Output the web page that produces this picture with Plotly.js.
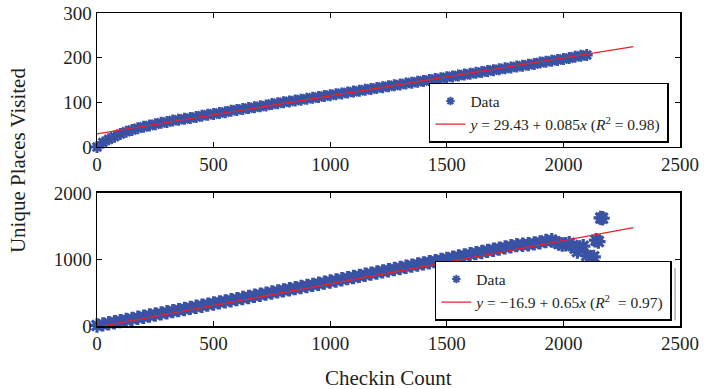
<!DOCTYPE html>
<html>
<head>
<meta charset="utf-8">
<script src="https://cdn.plot.ly/plotly-3.0.1.min.js"></script>
<style>html,body{margin:0;padding:0;background:#fff;}#chart{width:705px;height:389px;}</style>
</head>
<body>
<div id="chart"></div>
<script>
// ---- Data ----
const xTicks = [0, 500, 1000, 1500, 2000, 2500];
const yTicksTop = [0, 100, 200, 300];
const yTicksBottom = [0, 1000, 2000];

const topX = [0,25,50,75,100,125,150,175,200,225,250,275,300,325,350,375,400,425,450,475,500,525,550,575,600,625,650,675,700,725,750,775,800,825,850,875,900,925,950,975,1000,1025,1050,1075,1100,1125,1150,1175,1200,1225,1250,1275,1300,1325,1350,1375,1400,1425,1450,1475,1500,1525,1550,1575,1600,1625,1650,1675,1700,1725,1750,1775,1800,1825,1850,1875,1900,1925,1950,1975,2000,2025,2050,2075,2100];
const topY = [0,10,17,23,29,34,38,42,45,48,51,54,56,59,61,63,65,67,70,72,74,76,78,81,83,85,87,89,91,93,96,98,100,102,104,106,108,110,112,114,116,118,120,122,124,126,128,130,132,134,136,138,140,142,144,146,148,150,152,154,156,158,160,162,164,166,168,170,172,174,176,178,180,182,184,186,189,191,193,195,197,199,202,204,206];

const bottomX = [0,25,50,75,100,125,150,175,200,225,250,275,300,325,350,375,400,425,450,475,500,525,550,575,600,625,650,675,700,725,750,775,800,825,850,875,900,925,950,975,1000,1025,1050,1075,1100,1125,1150,1175,1200,1225,1250,1275,1300,1325,1350,1375,1400,1425,1450,1475,1500,1525,1550,1575,1600,1625,1650,1675,1700,1725,1750,1775,1800,1825,1850,1875,1900,1925,1950,
  1965,1980,1995,2010,2025,2040,2050,2060,2070,2085,2100,2115,2130,2140,2150,2160,2168];
const bottomY = [8,24,41,57,74,90,107,123,140,157,173,190,206,223,239,256,272,289,305,322,338,355,371,388,404,421,437,454,470,487,503,520,536,553,569,586,602,619,635,652,668,685,702,719,736,753,771,788,805,822,839,856,873,890,908,925,942,959,976,993,1010,1027,1045,1062,1079,1096,1113,1130,1147,1164,1182,1199,1216,1222,1230,1242,1258,1278,1290,
  1265,1240,1225,1230,1245,1210,1170,1120,1180,1200,1060,1030,1040,1290,1270,1625,1620];

const fitTopX = [0, 2300];
const fitTopY = [29.43, 224.93];
const fitBottomX = [0, 2300];
const fitBottomY = [-16.9, 1478.1];

const labelData = "Data";
const labelTop = "<i>y</i> = 29.43 + 0.085<i>x</i> (<i>R</i><sup>2</sup> = 0.98)";
const labelBottom = "<i>y</i> = \u221216.9 + 0.65<i>x</i> (<i>R</i><sup>2</sup>  = 0.97)";

// ---- Styling ----
const BLUE = '#3a52a4';
const RED = '#e8222a';
const FONT = 'Liberation Serif, Times New Roman, serif';
const TXT = '#231f20';

const legendMarker = {symbol: 'asterisk-open', size: 7, color: BLUE, line: {color: BLUE, width: 2}};

const traces = [
  {x: topX, y: topY, xaxis: 'x', yaxis: 'y', mode: 'markers', name: labelData, showlegend: false,
   cliponaxis: false,
   marker: {symbol: 'asterisk-open', size: 10, color: BLUE, line: {color: BLUE, width: 3}}},
  {x: [null], y: [null], xaxis: 'x', yaxis: 'y', mode: 'markers', name: labelData, legend: 'legend',
   marker: legendMarker},
  {x: fitTopX, y: fitTopY, xaxis: 'x', yaxis: 'y', mode: 'lines', name: labelTop, legend: 'legend',
   line: {color: RED, width: 1.3}},
  {x: bottomX, y: bottomY, xaxis: 'x2', yaxis: 'y2', mode: 'markers', name: labelData, showlegend: false,
   cliponaxis: false,
   marker: {symbol: 'asterisk-open', size: 12, color: BLUE, line: {color: BLUE, width: 3.2}}},
  {x: [null], y: [null], xaxis: 'x2', yaxis: 'y2', mode: 'markers', name: labelData, legend: 'legend2',
   marker: legendMarker},
  {x: fitBottomX, y: fitBottomY, xaxis: 'x2', yaxis: 'y2', mode: 'lines', name: labelBottom, legend: 'legend2',
   line: {color: RED, width: 1.3}}
];

const axisCommon = {
  showline: true, linecolor: '#000', linewidth: 1.5, mirror: 'ticks',
  ticks: 'inside', ticklen: 5, tickwidth: 1, tickcolor: '#000',
  showgrid: false, zeroline: false,
  tickfont: {family: FONT, size: 19, color: TXT}
};

const legendCommon = {
  bgcolor: '#fff', bordercolor: '#000', borderwidth: 1.5,
  font: {family: FONT, size: 15.5, color: TXT},
  xanchor: 'right', yanchor: 'bottom', tracegroupgap: 0
};

const layout = {
  width: 705, height: 389,
  margin: {l: 97, r: 25, t: 13, b: 63},
  paper_bgcolor: '#fff', plot_bgcolor: '#fff',
  showlegend: true,
  xaxis: Object.assign({}, axisCommon, {anchor: 'y', domain: [0, 1], range: [0, 2500], tickvals: xTicks}),
  yaxis: Object.assign({}, axisCommon, {anchor: 'x', domain: [0.572, 1], range: [0, 300], tickvals: yTicksTop}),
  xaxis2: Object.assign({}, axisCommon, {anchor: 'y2', domain: [0, 1], range: [0, 2500], tickvals: xTicks}),
  yaxis2: Object.assign({}, axisCommon, {anchor: 'x2', domain: [0, 0.425], range: [0, 2000], tickvals: yTicksBottom}),
  legend: Object.assign({}, legendCommon, {x: 0.981, y: 0.585}),
  legend2: Object.assign({}, legendCommon, {x: 0.986, y: 0.016}),
  shapes: [
    {type: 'line', xref: 'paper', yref: 'paper', x0: 0.9915, x1: 0.9915, y0: 0.018, y1: 0.185,
     line: {color: '#888', width: 1}}
  ],
  annotations: [
    {text: 'Unique Places Visited', xref: 'paper', yref: 'paper', x: 0, y: 0.527,
     xanchor: 'center', yanchor: 'middle', xshift: -79, textangle: -90, showarrow: false,
     font: {family: FONT, size: 21, color: TXT}},
    {text: 'Checkin Count', xref: 'paper', yref: 'paper', x: 0.5, y: 0,
     xanchor: 'center', yanchor: 'middle', yshift: -52, showarrow: false,
     font: {family: FONT, size: 21, color: TXT}}
  ]
};

Plotly.newPlot('chart', traces, layout, {displayModeBar: false, staticPlot: true});
</script>
</body>
</html>
